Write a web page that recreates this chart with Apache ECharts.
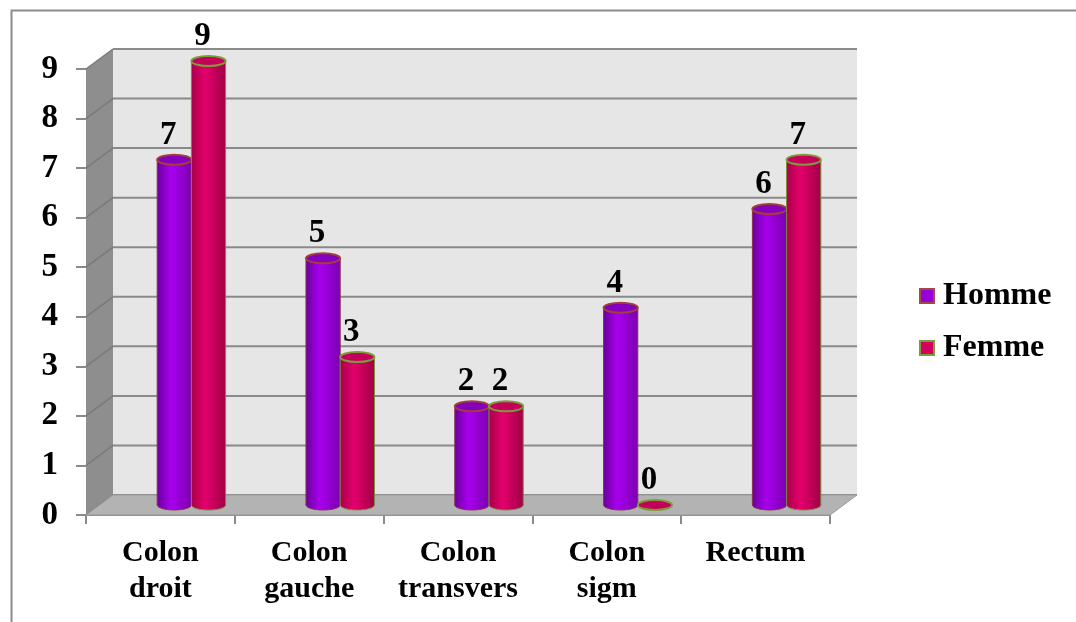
<!DOCTYPE html>
<html>
<head>
<meta charset="utf-8">
<script src="https://cdn.jsdelivr.net/npm/echarts@6/dist/echarts.min.js"></script>
<style>
  html, body { margin: 0; padding: 0; background: #ffffff; }
  #chart { width: 1076px; height: 622px; }
</style>
</head>
<body>
<div id="chart"></div>
<script>
// Tumour location by sex
const categories = ['Colon droit', 'Colon gauche', 'Colon transvers', 'Colon sigm', 'Rectum'];
const homme = [7, 5, 2, 4, 6];
const femme = [9, 3, 2, 0, 7];
const yMin = 0;
const yMax = 9;
const yStep = 1;

const FONT = "'Liberation Serif', 'Times New Roman', serif";
const DEPTH_X = 27;   // back plane shift to the right
const DEPTH_Y = -20;  // back plane shift upwards

const chart = echarts.init(document.getElementById('chart'));

// Box: side wall, floor, back wall and its gridlines
function renderBox(params, api) {
  const cs = params.coordSys;
  const x0 = cs.x, x1 = cs.x + cs.width;
  const children = [];
  const yb = api.coord([0, yMin])[1];
  const yt = api.coord([0, yMax])[1];
  // back wall
  children.push({
    type: 'rect',
    shape: { x: x0 + DEPTH_X, y: yt + DEPTH_Y, width: x1 - x0, height: yb - yt },
    style: { fill: '#e6e6e6' }
  });
  // side wall
  children.push({
    type: 'polygon',
    shape: { points: [[x0, yb], [x0, yt], [x0 + DEPTH_X, yt + DEPTH_Y], [x0 + DEPTH_X, yb + DEPTH_Y]] },
    style: { fill: '#8e8e8e' }
  });
  // gridlines on side and back walls
  for (let v = yMin; v <= yMax; v += yStep) {
    const y = api.coord([0, v])[1];
    children.push({
      type: 'polyline',
      shape: { points: [[x0, y], [x0 + DEPTH_X, y + DEPTH_Y]] },
      style: { stroke: '#7a7a7a', lineWidth: 1.5, fill: null }
    });
    children.push({
      type: 'polyline',
      shape: { points: [[x0 + DEPTH_X, y + DEPTH_Y], [x1 + DEPTH_X, y + DEPTH_Y]] },
      style: { stroke: '#8a8a8a', lineWidth: 2, fill: null }
    });
  }
  // floor
  children.push({
    type: 'polygon',
    shape: { points: [[x0, yb], [x1, yb], [x1 + DEPTH_X, yb + DEPTH_Y], [x0 + DEPTH_X, yb + DEPTH_Y]] },
    style: { fill: '#b3b3b3', stroke: '#9a9a9a', lineWidth: 1 }
  });
  return { type: 'group', children: children };
}

// Cylinder drawn from one data value
function cylinderRenderer(side, pal) {
  return function (params, api) {
    const cat = api.value(0);
    const val = api.value(1);
    const base = api.coord([cat, 0]);
    const top = api.coord([cat, val]);
    const band = api.size([1, 0])[0];
    const w = band * 0.23;
    const cx = base[0] + side * w / 2;
    const rx = w / 2, ry = 5;
    const grad = new echarts.graphic.LinearGradient(0, 0, 1, 0, [
      { offset: 0, color: pal.dark },
      { offset: 0.4, color: pal.light },
      { offset: 1, color: pal.dark2 }
    ]);
    const children = [];
    if (top[1] < base[1]) {
      children.push({
        type: 'ellipse',
        shape: { cx: cx, cy: base[1], rx: rx, ry: ry },
        style: { fill: grad, stroke: pal.edge, lineWidth: 1 }
      });
      children.push({
        type: 'rect',
        shape: { x: cx - rx, y: top[1], width: w, height: base[1] - top[1] },
        style: { fill: grad }
      });
      children.push({
        type: 'polyline',
        shape: { points: [[cx - rx, top[1]], [cx - rx, base[1]]] },
        style: { stroke: pal.edge, lineWidth: 1, fill: null }
      });
      children.push({
        type: 'polyline',
        shape: { points: [[cx + rx, top[1]], [cx + rx, base[1]]] },
        style: { stroke: pal.edge, lineWidth: 1, fill: null }
      });
    }
    children.push({
      type: 'ellipse',
      shape: { cx: cx, cy: top[1], rx: rx, ry: ry },
      style: { fill: pal.cap, stroke: pal.rim, lineWidth: 2 }
    });
    children.push({
      type: 'text',
      style: {
        text: String(val),
        x: cx - 6,
        y: top[1] - 8,
        align: 'center',
        verticalAlign: 'bottom',
        fill: '#000',
        font: 'bold 33px ' + FONT
      }
    });
    return { type: 'group', children: children };
  };
}

const hommePal = { dark: '#6a009c', light: '#a800ee', dark2: '#7c00b0', cap: '#8400bc', rim: '#a0403a', edge: '#8a3050' };
const femmePal = { dark: '#a8004a', light: '#e4006c', dark2: '#a00046', cap: '#c4005a', rim: '#7c9c3c', edge: '#7a8a40' };

const option = {
  animation: false,
  backgroundColor: '#ffffff',
  graphic: [{
    type: 'rect',
    left: 9, top: 8,
    shape: { width: 1100, height: 700 },
    style: { fill: null, stroke: '#8c8c8c', lineWidth: 2 },
    z: -10
  }],
  legend: {
    orient: 'vertical',
    left: 914,
    top: 275,
    itemWidth: 14,
    itemHeight: 14,
    itemGap: 20,
    icon: 'rect',
    data: ['Homme', 'Femme'],
    textStyle: { fontFamily: FONT, fontWeight: 'bold', fontSize: 32, color: '#000', padding: [0, 0, 0, 4] }
  },
  grid: [
    { left: 86, right: 246, top: 69, bottom: 107 },
    { left: 117, right: 215, top: 61, bottom: 117 }
  ],
  xAxis: [
    {
      type: 'category', gridIndex: 0, data: categories,
      axisLine: { show: true, lineStyle: { color: '#8a8a8a', width: 2 } },
      axisTick: { show: true, interval: 0, length: 9, lineStyle: { color: '#8a8a8a', width: 2 } },
      axisLabel: {
        interval: 0, margin: 20, color: '#000', fontFamily: FONT, fontWeight: 'bold',
        fontSize: 30, lineHeight: 36,
        formatter: function (v) { return v.replace(' ', '\n'); }
      },
      splitLine: { show: false }
    },
    {
      type: 'category', gridIndex: 1, data: categories, show: false
    }
  ],
  yAxis: [
    {
      type: 'value', gridIndex: 0, min: yMin, max: yMax, interval: yStep,
      axisLine: { show: false },
      axisTick: { show: true, length: 10, lineStyle: { color: '#8a8a8a', width: 2 } },
      axisLabel: { margin: 28, color: '#000', fontFamily: FONT, fontWeight: 'bold', fontSize: 33 },
      splitLine: { show: false }
    },
    {
      type: 'value', gridIndex: 1, min: yMin, max: yMax, interval: yStep, show: false
    }
  ],
  series: [
    {
      name: 'box', type: 'custom', xAxisIndex: 0, yAxisIndex: 0, silent: true, z: 1,
      data: [[0, 0]], renderItem: renderBox
    },
    {
      name: 'Homme', type: 'custom', xAxisIndex: 1, yAxisIndex: 1, z: 3,
      itemStyle: { color: '#9a00d6', borderColor: '#a04a4a', borderWidth: 1.5 },
      data: categories.map(function (c, i) { return [i, homme[i]]; }),
      renderItem: cylinderRenderer(-1, hommePal)
    },
    {
      name: 'Femme', type: 'custom', xAxisIndex: 1, yAxisIndex: 1, z: 3,
      itemStyle: { color: '#d6005e', borderColor: '#7c9c3c', borderWidth: 1.5 },
      data: categories.map(function (c, i) { return [i, femme[i]]; }),
      renderItem: cylinderRenderer(1, femmePal)
    }
  ]
};

chart.setOption(option);
</script>
</body>
</html>
